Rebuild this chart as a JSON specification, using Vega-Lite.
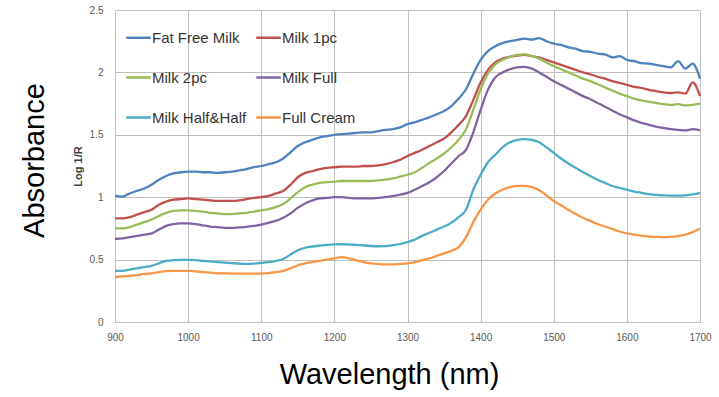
{
"$schema":"https://vega.github.io/schema/vega-lite/v6.json",
"width":585,"height":312,
"autosize":{"type":"none"},
"padding":{"left":115,"top":10,"right":19,"bottom":75},
"background":"white",
"config":{"view":{"stroke":"#bfbfbf","strokeWidth":1},"font":"Liberation Sans"},
"data":{"values":[
{"x":900,"Fat Free Milk":1.01,"Milk 1pc":0.83,"Milk 2pc":0.75,"Milk Full":0.665,"Milk Half&Half":0.41,"Full Cream":0.36},
{"x":910,"Fat Free Milk":1.005,"Milk 1pc":0.83,"Milk 2pc":0.75,"Milk Full":0.67,"Milk Half&Half":0.41,"Full Cream":0.365},
{"x":920,"Fat Free Milk":1.03,"Milk 1pc":0.84,"Milk 2pc":0.76,"Milk Full":0.68,"Milk Half&Half":0.42,"Full Cream":0.37},
{"x":930,"Fat Free Milk":1.05,"Milk 1pc":0.86,"Milk 2pc":0.78,"Milk Full":0.69,"Milk Half&Half":0.43,"Full Cream":0.375},
{"x":940,"Fat Free Milk":1.07,"Milk 1pc":0.88,"Milk 2pc":0.8,"Milk Full":0.7,"Milk Half&Half":0.44,"Full Cream":0.385},
{"x":950,"Fat Free Milk":1.1,"Milk 1pc":0.9,"Milk 2pc":0.82,"Milk Full":0.71,"Milk Half&Half":0.45,"Full Cream":0.39},
{"x":960,"Fat Free Milk":1.14,"Milk 1pc":0.94,"Milk 2pc":0.85,"Milk Full":0.74,"Milk Half&Half":0.47,"Full Cream":0.4},
{"x":970,"Fat Free Milk":1.17,"Milk 1pc":0.965,"Milk 2pc":0.875,"Milk Full":0.77,"Milk Half&Half":0.49,"Full Cream":0.407},
{"x":980,"Fat Free Milk":1.19,"Milk 1pc":0.98,"Milk 2pc":0.89,"Milk Full":0.785,"Milk Half&Half":0.495,"Full Cream":0.41},
{"x":990,"Fat Free Milk":1.2,"Milk 1pc":0.985,"Milk 2pc":0.895,"Milk Full":0.79,"Milk Half&Half":0.497,"Full Cream":0.41},
{"x":1000,"Fat Free Milk":1.205,"Milk 1pc":0.99,"Milk 2pc":0.895,"Milk Full":0.79,"Milk Half&Half":0.497,"Full Cream":0.41},
{"x":1010,"Fat Free Milk":1.205,"Milk 1pc":0.985,"Milk 2pc":0.89,"Milk Full":0.785,"Milk Half&Half":0.495,"Full Cream":0.405},
{"x":1020,"Fat Free Milk":1.2,"Milk 1pc":0.98,"Milk 2pc":0.885,"Milk Full":0.775,"Milk Half&Half":0.49,"Full Cream":0.4},
{"x":1030,"Fat Free Milk":1.2,"Milk 1pc":0.975,"Milk 2pc":0.875,"Milk Full":0.765,"Milk Half&Half":0.485,"Full Cream":0.395},
{"x":1040,"Fat Free Milk":1.195,"Milk 1pc":0.97,"Milk 2pc":0.87,"Milk Full":0.76,"Milk Half&Half":0.48,"Full Cream":0.39},
{"x":1050,"Fat Free Milk":1.2,"Milk 1pc":0.97,"Milk 2pc":0.865,"Milk Full":0.755,"Milk Half&Half":0.476,"Full Cream":0.39},
{"x":1060,"Fat Free Milk":1.205,"Milk 1pc":0.97,"Milk 2pc":0.865,"Milk Full":0.755,"Milk Half&Half":0.472,"Full Cream":0.388},
{"x":1070,"Fat Free Milk":1.215,"Milk 1pc":0.975,"Milk 2pc":0.87,"Milk Full":0.758,"Milk Half&Half":0.468,"Full Cream":0.387},
{"x":1080,"Fat Free Milk":1.225,"Milk 1pc":0.985,"Milk 2pc":0.875,"Milk Full":0.762,"Milk Half&Half":0.466,"Full Cream":0.387},
{"x":1090,"Fat Free Milk":1.24,"Milk 1pc":0.995,"Milk 2pc":0.885,"Milk Full":0.77,"Milk Half&Half":0.468,"Full Cream":0.387},
{"x":1100,"Fat Free Milk":1.25,"Milk 1pc":1.0,"Milk 2pc":0.895,"Milk Full":0.78,"Milk Half&Half":0.474,"Full Cream":0.388},
{"x":1110,"Fat Free Milk":1.265,"Milk 1pc":1.01,"Milk 2pc":0.905,"Milk Full":0.795,"Milk Half&Half":0.48,"Full Cream":0.392},
{"x":1120,"Fat Free Milk":1.28,"Milk 1pc":1.03,"Milk 2pc":0.92,"Milk Full":0.81,"Milk Half&Half":0.49,"Full Cream":0.4},
{"x":1130,"Fat Free Milk":1.31,"Milk 1pc":1.05,"Milk 2pc":0.945,"Milk Full":0.835,"Milk Half&Half":0.505,"Full Cream":0.41},
{"x":1140,"Fat Free Milk":1.36,"Milk 1pc":1.1,"Milk 2pc":0.99,"Milk Full":0.87,"Milk Half&Half":0.54,"Full Cream":0.43},
{"x":1150,"Fat Free Milk":1.41,"Milk 1pc":1.16,"Milk 2pc":1.04,"Milk Full":0.915,"Milk Half&Half":0.575,"Full Cream":0.455},
{"x":1160,"Fat Free Milk":1.44,"Milk 1pc":1.195,"Milk 2pc":1.08,"Milk Full":0.95,"Milk Half&Half":0.595,"Full Cream":0.47},
{"x":1170,"Fat Free Milk":1.46,"Milk 1pc":1.21,"Milk 2pc":1.1,"Milk Full":0.975,"Milk Half&Half":0.605,"Full Cream":0.48},
{"x":1180,"Fat Free Milk":1.48,"Milk 1pc":1.225,"Milk 2pc":1.115,"Milk Full":0.99,"Milk Half&Half":0.612,"Full Cream":0.49},
{"x":1190,"Fat Free Milk":1.49,"Milk 1pc":1.235,"Milk 2pc":1.12,"Milk Full":0.995,"Milk Half&Half":0.618,"Full Cream":0.5},
{"x":1200,"Fat Free Milk":1.5,"Milk 1pc":1.24,"Milk 2pc":1.125,"Milk Full":1.0,"Milk Half&Half":0.622,"Full Cream":0.51},
{"x":1210,"Fat Free Milk":1.505,"Milk 1pc":1.245,"Milk 2pc":1.13,"Milk Full":1.0,"Milk Half&Half":0.623,"Full Cream":0.52},
{"x":1220,"Fat Free Milk":1.51,"Milk 1pc":1.245,"Milk 2pc":1.13,"Milk Full":0.995,"Milk Half&Half":0.622,"Full Cream":0.51},
{"x":1230,"Fat Free Milk":1.515,"Milk 1pc":1.245,"Milk 2pc":1.13,"Milk Full":0.99,"Milk Half&Half":0.618,"Full Cream":0.495},
{"x":1240,"Fat Free Milk":1.52,"Milk 1pc":1.25,"Milk 2pc":1.13,"Milk Full":0.99,"Milk Half&Half":0.613,"Full Cream":0.48},
{"x":1250,"Fat Free Milk":1.52,"Milk 1pc":1.25,"Milk 2pc":1.13,"Milk Full":0.99,"Milk Half&Half":0.609,"Full Cream":0.47},
{"x":1260,"Fat Free Milk":1.53,"Milk 1pc":1.255,"Milk 2pc":1.135,"Milk Full":0.995,"Milk Half&Half":0.607,"Full Cream":0.465},
{"x":1270,"Fat Free Milk":1.54,"Milk 1pc":1.265,"Milk 2pc":1.14,"Milk Full":1.0,"Milk Half&Half":0.608,"Full Cream":0.462},
{"x":1280,"Fat Free Milk":1.545,"Milk 1pc":1.28,"Milk 2pc":1.15,"Milk Full":1.01,"Milk Half&Half":0.615,"Full Cream":0.462},
{"x":1290,"Fat Free Milk":1.56,"Milk 1pc":1.3,"Milk 2pc":1.165,"Milk Full":1.02,"Milk Half&Half":0.625,"Full Cream":0.465},
{"x":1300,"Fat Free Milk":1.585,"Milk 1pc":1.33,"Milk 2pc":1.18,"Milk Full":1.035,"Milk Half&Half":0.64,"Full Cream":0.47},
{"x":1310,"Fat Free Milk":1.6,"Milk 1pc":1.355,"Milk 2pc":1.2,"Milk Full":1.06,"Milk Half&Half":0.66,"Full Cream":0.48},
{"x":1320,"Fat Free Milk":1.62,"Milk 1pc":1.38,"Milk 2pc":1.235,"Milk Full":1.09,"Milk Half&Half":0.69,"Full Cream":0.495},
{"x":1330,"Fat Free Milk":1.64,"Milk 1pc":1.41,"Milk 2pc":1.275,"Milk Full":1.12,"Milk Half&Half":0.715,"Full Cream":0.51},
{"x":1340,"Fat Free Milk":1.665,"Milk 1pc":1.44,"Milk 2pc":1.31,"Milk Full":1.16,"Milk Half&Half":0.74,"Full Cream":0.53},
{"x":1350,"Fat Free Milk":1.69,"Milk 1pc":1.47,"Milk 2pc":1.35,"Milk Full":1.21,"Milk Half&Half":0.765,"Full Cream":0.55},
{"x":1360,"Fat Free Milk":1.73,"Milk 1pc":1.52,"Milk 2pc":1.4,"Milk Full":1.27,"Milk Half&Half":0.795,"Full Cream":0.57},
{"x":1370,"Fat Free Milk":1.79,"Milk 1pc":1.58,"Milk 2pc":1.46,"Milk Full":1.33,"Milk Half&Half":0.84,"Full Cream":0.6},
{"x":1380,"Fat Free Milk":1.865,"Milk 1pc":1.65,"Milk 2pc":1.545,"Milk Full":1.38,"Milk Half&Half":0.9,"Full Cream":0.68},
{"x":1390,"Fat Free Milk":1.99,"Milk 1pc":1.78,"Milk 2pc":1.7,"Milk Full":1.52,"Milk Half&Half":1.06,"Full Cream":0.8},
{"x":1400,"Fat Free Milk":2.1,"Milk 1pc":1.92,"Milk 2pc":1.865,"Milk Full":1.7,"Milk Half&Half":1.18,"Full Cream":0.9},
{"x":1410,"Fat Free Milk":2.17,"Milk 1pc":2.02,"Milk 2pc":1.99,"Milk Full":1.86,"Milk Half&Half":1.28,"Full Cream":0.98},
{"x":1420,"Fat Free Milk":2.21,"Milk 1pc":2.08,"Milk 2pc":2.065,"Milk Full":1.96,"Milk Half&Half":1.34,"Full Cream":1.03},
{"x":1430,"Fat Free Milk":2.235,"Milk 1pc":2.11,"Milk 2pc":2.1,"Milk Full":2.0,"Milk Half&Half":1.4,"Full Cream":1.06},
{"x":1440,"Fat Free Milk":2.25,"Milk 1pc":2.125,"Milk 2pc":2.125,"Milk Full":2.025,"Milk Half&Half":1.44,"Full Cream":1.08},
{"x":1450,"Fat Free Milk":2.26,"Milk 1pc":2.135,"Milk 2pc":2.14,"Milk Full":2.04,"Milk Half&Half":1.46,"Full Cream":1.09},
{"x":1460,"Fat Free Milk":2.27,"Milk 1pc":2.14,"Milk 2pc":2.145,"Milk Full":2.045,"Milk Half&Half":1.465,"Full Cream":1.09},
{"x":1470,"Fat Free Milk":2.262,"Milk 1pc":2.13,"Milk 2pc":2.13,"Milk Full":2.03,"Milk Half&Half":1.46,"Full Cream":1.08},
{"x":1480,"Fat Free Milk":2.275,"Milk 1pc":2.12,"Milk 2pc":2.11,"Milk Full":2.0,"Milk Half&Half":1.44,"Full Cream":1.055},
{"x":1490,"Fat Free Milk":2.25,"Milk 1pc":2.1,"Milk 2pc":2.08,"Milk Full":1.965,"Milk Half&Half":1.4,"Full Cream":1.015},
{"x":1500,"Fat Free Milk":2.23,"Milk 1pc":2.08,"Milk 2pc":2.05,"Milk Full":1.93,"Milk Half&Half":1.355,"Full Cream":0.97},
{"x":1510,"Fat Free Milk":2.22,"Milk 1pc":2.06,"Milk 2pc":2.025,"Milk Full":1.9,"Milk Half&Half":1.31,"Full Cream":0.935},
{"x":1520,"Fat Free Milk":2.2,"Milk 1pc":2.04,"Milk 2pc":2.0,"Milk Full":1.87,"Milk Half&Half":1.27,"Full Cream":0.9},
{"x":1530,"Fat Free Milk":2.19,"Milk 1pc":2.02,"Milk 2pc":1.975,"Milk Full":1.84,"Milk Half&Half":1.235,"Full Cream":0.865},
{"x":1540,"Fat Free Milk":2.17,"Milk 1pc":2.0,"Milk 2pc":1.95,"Milk Full":1.81,"Milk Half&Half":1.2,"Full Cream":0.835},
{"x":1550,"Fat Free Milk":2.165,"Milk 1pc":1.985,"Milk 2pc":1.93,"Milk Full":1.785,"Milk Half&Half":1.17,"Full Cream":0.81},
{"x":1560,"Fat Free Milk":2.15,"Milk 1pc":1.965,"Milk 2pc":1.905,"Milk Full":1.755,"Milk Half&Half":1.14,"Full Cream":0.785},
{"x":1570,"Fat Free Milk":2.145,"Milk 1pc":1.95,"Milk 2pc":1.88,"Milk Full":1.725,"Milk Half&Half":1.115,"Full Cream":0.765},
{"x":1580,"Fat Free Milk":2.12,"Milk 1pc":1.93,"Milk 2pc":1.855,"Milk Full":1.695,"Milk Half&Half":1.09,"Full Cream":0.745},
{"x":1590,"Fat Free Milk":2.13,"Milk 1pc":1.915,"Milk 2pc":1.83,"Milk Full":1.665,"Milk Half&Half":1.075,"Full Cream":0.725},
{"x":1600,"Fat Free Milk":2.1,"Milk 1pc":1.9,"Milk 2pc":1.81,"Milk Full":1.64,"Milk Half&Half":1.06,"Full Cream":0.71},
{"x":1610,"Fat Free Milk":2.09,"Milk 1pc":1.885,"Milk 2pc":1.79,"Milk Full":1.615,"Milk Half&Half":1.045,"Full Cream":0.7},
{"x":1620,"Fat Free Milk":2.075,"Milk 1pc":1.875,"Milk 2pc":1.775,"Milk Full":1.595,"Milk Half&Half":1.035,"Full Cream":0.692},
{"x":1630,"Fat Free Milk":2.07,"Milk 1pc":1.86,"Milk 2pc":1.765,"Milk Full":1.58,"Milk Half&Half":1.025,"Full Cream":0.685},
{"x":1640,"Fat Free Milk":2.06,"Milk 1pc":1.85,"Milk 2pc":1.755,"Milk Full":1.565,"Milk Half&Half":1.018,"Full Cream":0.682},
{"x":1650,"Fat Free Milk":2.05,"Milk 1pc":1.84,"Milk 2pc":1.745,"Milk Full":1.555,"Milk Half&Half":1.015,"Full Cream":0.68},
{"x":1660,"Fat Free Milk":2.04,"Milk 1pc":1.835,"Milk 2pc":1.74,"Milk Full":1.545,"Milk Half&Half":1.013,"Full Cream":0.682},
{"x":1670,"Fat Free Milk":2.09,"Milk 1pc":1.84,"Milk 2pc":1.745,"Milk Full":1.54,"Milk Half&Half":1.013,"Full Cream":0.688},
{"x":1680,"Fat Free Milk":2.03,"Milk 1pc":1.83,"Milk 2pc":1.735,"Milk Full":1.535,"Milk Half&Half":1.015,"Full Cream":0.7},
{"x":1690,"Fat Free Milk":2.07,"Milk 1pc":1.92,"Milk 2pc":1.74,"Milk Full":1.545,"Milk Half&Half":1.022,"Full Cream":0.72},
{"x":1700,"Fat Free Milk":1.95,"Milk 1pc":1.81,"Milk 2pc":1.75,"Milk Full":1.535,"Milk Half&Half":1.035,"Full Cream":0.75}
]},
"transform":[{"fold":["Fat Free Milk","Milk 1pc","Milk 2pc","Milk Full","Milk Half&Half","Full Cream"],"as":["series","value"]}],
"layer":[
{"mark":{"type":"line","strokeWidth":2.3,"interpolate":"monotone"},
 "encoding":{
  "x":{"field":"x","type":"quantitative","scale":{"domain":[900,1700],"nice":false,"zero":false},
       "axis":{"values":[900,1000,1100,1200,1300,1400,1500,1600,1700],"format":"d","grid":true,"gridColor":"#bfbfbf","gridOpacity":1,"ticks":false,"domain":false,"labelFontSize":10,"labelColor":"#595959","labelPadding":10,"labelFlush":false,
               "title":"Wavelength (nm)","titleFontSize":29,"titleFontWeight":"normal","titleColor":"#000000","titleX":274,"titleY":61,"titleAlign":"center","titleBaseline":"alphabetic","titleAnchor":null}},
  "y":{"field":"value","type":"quantitative","scale":{"domain":[0,2.5],"nice":false},
       "axis":{"values":[0,0.5,1,1.5,2,2.5],"format":"~g","grid":true,"gridColor":"#bfbfbf","gridOpacity":1,"ticks":false,"domain":false,"labelFontSize":10,"labelColor":"#595959","labelPadding":12,"labelFlush":false,
               "title":"Log 1/R","titleFontSize":11,"titleFontWeight":"bold","titleColor":"#404040","titleX":-37,"titleY":156,"titleAngle":-90,"titleAlign":"center","titleBaseline":"middle","titleAnchor":null}},
  "color":{"field":"series","type":"nominal",
       "scale":{"domain":["Fat Free Milk","Milk 1pc","Milk 2pc","Milk Full","Milk Half&Half","Full Cream"],"range":["#4f81bd","#c0504d","#9bbb59","#8064a2","#4bacc6","#f79646"]},
       "legend":{"orient":"none","direction":"horizontal","legendX":10,"legendY":14,"columns":2,"title":null,"symbolType":"stroke","symbolStrokeWidth":2.5,"symbolSize":600,"labelFontSize":15,"labelColor":"#333333","labelOffset":0,"rowPadding":18,"columnPadding":4,"padding":0}}
 }},
{"mark":{"type":"line","opacity":0},
 "encoding":{
  "x":{"field":"x","type":"quantitative","scale":{"domain":[900,1700],"nice":false,"zero":false}},
  "y":{"field":"value","type":"quantitative","scale":{"domain":[0,2.5],"nice":false},
       "axis":{"orient":"left","labels":false,"ticks":false,"domain":false,"grid":false,
               "title":"Absorbance","titleFontSize":29,"titleFontWeight":"normal","titleColor":"#000000","titleX":-72,"titleY":150,"titleAngle":-90,"titleAlign":"center","titleBaseline":"alphabetic","titleAnchor":null}}
 }}
],
"resolve":{"axis":{"y":"independent"}}
}
